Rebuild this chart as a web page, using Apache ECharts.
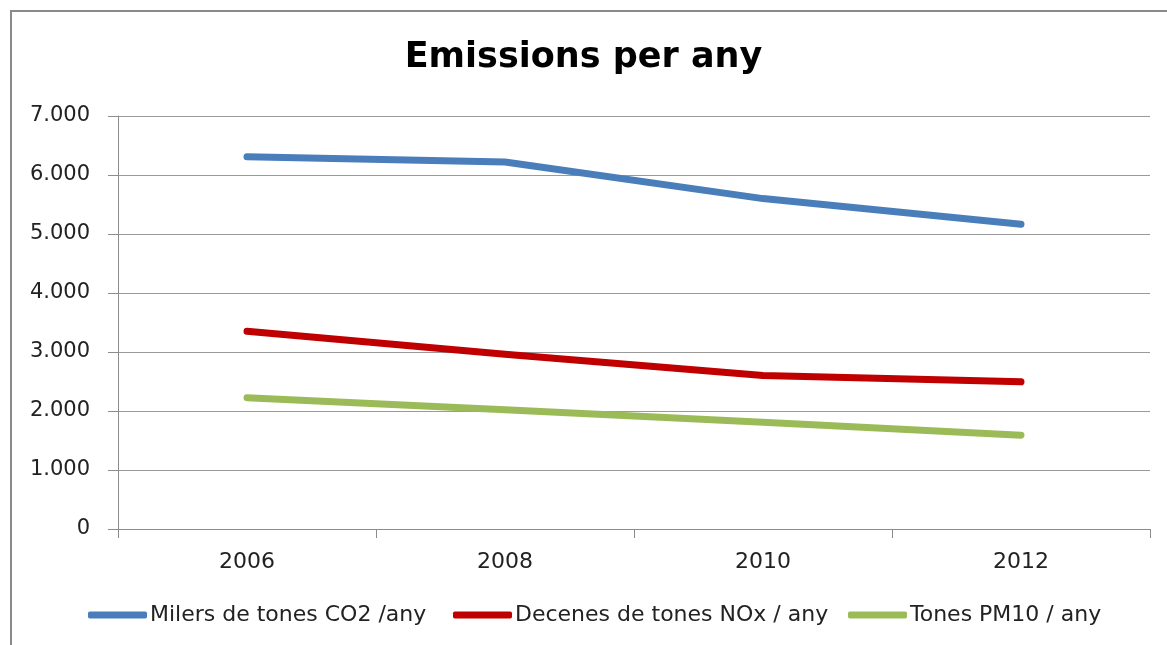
<!DOCTYPE html>
<html>
<head>
<meta charset="utf-8">
<script src="https://cdn.jsdelivr.net/npm/echarts@6/dist/echarts.min.js"></script>
<style>
html,body{margin:0;padding:0;background:#fff;overflow:hidden;width:1167px;height:645px;}
#frame{position:absolute;left:10px;top:10px;width:1200px;height:700px;border-left:2px solid #8a8a8a;border-top:2px solid #8a8a8a;}
#chart{position:absolute;left:0;top:0;width:1167px;height:645px;}
</style>
</head>
<body>
<div id="frame"></div>
<div id="chart"></div>
<script>
const categories = ['2006', '2008', '2010', '2012'];
const co2 = [6310, 6220, 5600, 5165];
const nox = [3350, 2960, 2600, 2495];
const pm10 = [2225, 2020, 1810, 1590];
const seriesNames = ['Milers de tones CO2 /any', 'Decenes de tones NOx / any', 'Tones PM10 / any'];
const colors = ['#4A7EBB', '#C00000', '#9BBB59'];

const FONT = 'DejaVu Sans';
const chart = echarts.init(document.getElementById('chart'));
function fmt(v){ return String(v).replace(/\B(?=(\d{3})+(?!\d))/g, '.'); }
const legendBase = {
  top: 604, itemHeight: 7, itemWidth: 59, icon: 'roundRect', padding: 0,
  textStyle: {fontFamily: FONT, fontSize: 22, color: '#222', padding: [0,0,0,-2]},
  itemGap: 4
};
chart.setOption({
  animation: false,
  title: {
    text: 'Emissions per any', left: 'center', top: 35,
    textStyle: {fontFamily: FONT, fontWeight: 'bold', fontSize: 35, color: '#000'}
  },
  legend: [
    Object.assign({}, legendBase, {left: 88, data: [seriesNames[0]]}),
    Object.assign({}, legendBase, {left: 453, data: [seriesNames[1]]}),
    Object.assign({}, legendBase, {left: 848, data: [seriesNames[2]]})
  ],
  grid: {left: 118, right: 17, top: 116, bottom: 116, containLabel: false},
  xAxis: {
    type: 'category', data: categories, boundaryGap: true,
    axisLine: {lineStyle: {color: '#8c8c8c', width: 1}},
    axisTick: {show: true, length: 9, lineStyle: {color: '#8c8c8c'}},
    axisLabel: {fontFamily: FONT, fontSize: 22, color: '#222', margin: 22}
  },
  yAxis: {
    type: 'value', min: 0, max: 7000, interval: 1000,
    axisLine: {show: true, lineStyle: {color: '#8c8c8c', width: 1}},
    axisTick: {show: true, length: 10, lineStyle: {color: '#8c8c8c'}},
    splitLine: {lineStyle: {color: '#9a9a9a', width: 1}},
    axisLabel: {fontFamily: FONT, fontSize: 21, color: '#222', margin: 28, formatter: fmt}
  },
  series: [co2, nox, pm10].map((d, i) => ({
    name: seriesNames[i], type: 'line', data: d,
    symbol: 'none', color: colors[i],
    lineStyle: {width: 7, color: colors[i], cap: 'round', join: 'round'}
  }))
});
</script>
</body>
</html>
